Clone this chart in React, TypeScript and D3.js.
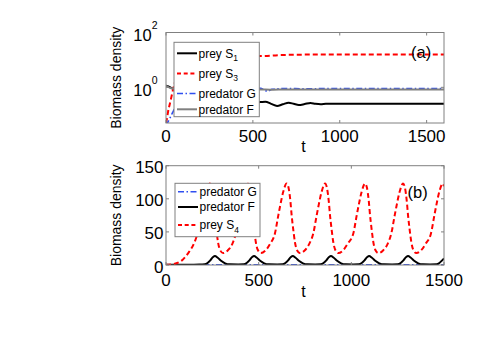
import * as d3 from "d3";

const FONT = "'Liberation Sans', Arial, Helvetica, sans-serif";

// ---- panel (a): log-scale biomass, t from 0 to 1600 ----
const preyS1 = [
  [0, 1.15], [10, 1.1], [25, 1.0], [45, 0.85], [80, 0.5], [120, 0.3], [160, 0.25], [220, 0.32],
  [300, 0.28], [380, 0.22], [460, 0.27], [543, 0.29], [572, 0.3], [605, 0.25], [639, 0.21],
  [672, 0.24], [706, 0.275], [735, 0.25], [764, 0.227], [798, 0.245], [832, 0.27], [860, 0.25],
  [890, 0.24], [920, 0.25], [960, 0.253], [1050, 0.25], [1200, 0.252], [1400, 0.25], [1600, 0.251],
];
const preyS3 = [
  [0, 0.05], [5, 0.07], [12, 0.13], [25, 0.3], [40, 0.8], [55, 1.8], [80, 4], [120, 8], [200, 12],
  [300, 13.5], [400, 14], [500, 13.8], [550, 13.8], [650, 15], [800, 15.6], [1000, 15.8],
  [1200, 15.8], [1600, 15.8],
];
const predatorG_a = [
  [0, 0.04], [8, 0.05], [20, 0.07], [35, 0.11], [46, 0.15], [80, 0.4], [120, 0.8], [200, 1.0],
  [300, 0.9], [400, 0.88], [500, 0.9], [545, 0.92], [565, 0.8], [585, 0.72], [610, 0.85],
  [680, 0.9], [800, 0.89], [1000, 0.9], [1600, 0.9],
];
const predatorF_a = [
  [0, 1.15], [10, 1.05], [25, 0.95], [46, 0.9], [100, 0.8], [300, 0.82], [545, 0.84], [600, 0.82],
  [700, 0.83], [1000, 0.83], [1600, 0.83],
];

// ---- panel (b): linear biomass, t from 0 to 1500 ----
const predatorG_b = [
  [0, 0.3], [200, 0.3], [400, 0.35], [700, 0.3], [1000, 0.3], [1300, 0.3], [1500, 0.3],
];
const predatorF_b = [
  [0, 0.3], [100, 0.4], [180, 0.6], [209, 1], [224, 3], [239, 7], [254, 12], [264, 13.5], [279, 11],
  [299, 6], [319, 2.5], [344, 1], [390, 0.8],
  [420, 1], [435, 3], [450, 7], [465, 12], [475, 13.5], [490, 11], [510, 6], [530, 2.5], [555, 1], [600, 0.8],
  [629, 1], [644, 3], [659, 7], [674, 12], [684, 13.5], [699, 11], [719, 6], [739, 2.5], [764, 1], [805, 0.8],
  [835, 1], [850, 3], [865, 7], [880, 12], [890, 13.5], [905, 11], [925, 6], [945, 2.5], [970, 1], [1010, 0.8],
  [1041, 1], [1056, 3], [1071, 7], [1086, 12], [1096, 13.5], [1111, 11], [1131, 6], [1151, 2.5], [1176, 1], [1220, 0.8],
  [1251, 1], [1266, 3], [1281, 7], [1296, 12], [1306, 13.5], [1321, 11], [1341, 6], [1361, 2.5], [1386, 1], [1425, 0.8],
  [1460, 1], [1475, 3], [1490, 7], [1500, 10],
];
const preyS4 = [
  [0, 0.5], [30, 1], [60, 3], [90, 8], [120, 18], [150, 32], [166, 44], [190, 75], [205, 95], [220, 112],
  [236, 123], [246, 117], [256, 97], [263, 75], [271, 55], [281, 34], [291, 23], [308, 18],
  [333, 22], [358, 32], [377, 48], [395, 75], [404, 88], [422, 111], [440, 123], [450, 117], [460, 97],
  [467, 75], [475, 55], [485, 34], [495, 23], [512, 18],
  [537, 22], [562, 32], [588, 48], [606, 75], [615, 88], [633, 111], [651, 123], [661, 117], [671, 97],
  [678, 75], [686, 55], [696, 34], [706, 23], [723, 18],
  [748, 22], [773, 32], [795, 48], [813, 75], [822, 88], [840, 111], [858, 123], [868, 117], [878, 97],
  [885, 75], [893, 55], [903, 34], [913, 23], [930, 18],
  [955, 22], [980, 32], [1011, 48], [1029, 75], [1038, 88], [1056, 111], [1074, 123], [1084, 117], [1094, 97],
  [1101, 75], [1109, 55], [1119, 34], [1129, 23], [1146, 18],
  [1171, 22], [1196, 32], [1216, 48], [1234, 75], [1243, 88], [1261, 111], [1279, 123], [1289, 117], [1299, 97],
  [1306, 75], [1314, 55], [1324, 34], [1334, 23], [1351, 18],
  [1376, 22], [1401, 32], [1430, 48], [1448, 75], [1457, 88], [1475, 111], [1493, 123], [1500, 119],
];

const xTicks = [0, 500, 1000, 1500];
const logTicks = [0, 2]; // exponents shown as 10^k
const linTicks = [0, 50, 100, 150];

const legendA = [
  { label: "prey S", sub: "1", color: "#000", dash: "none", width: 2, y: 53.3 },
  { label: "prey S", sub: "3", color: "#ff0000", dash: "4,2.7", width: 2, y: 73.5 },
  { label: "predator G", sub: "", color: "#2f4ff0", dash: "6,2.5,1.5,2.5", width: 1.6, y: 93.5 },
  { label: "predator F", sub: "", color: "#808080", dash: "none", width: 2, y: 109.3 },
];
const legendB = [
  { label: "predator G", sub: "", color: "#2f4ff0", dash: "6,2.5,1.5,2.5", width: 1.6, y: 191.7 },
  { label: "predator F", sub: "", color: "#000", dash: "none", width: 2, y: 207 },
  { label: "prey S", sub: "4", color: "#ff0000", dash: "4,2.7", width: 2, y: 225 },
];

const frame = "#808080";
const TICK = 3;

function Legend({ x0, y0, x1, y1, items }) {
  return (
    <g>
      <rect x={x0} y={y0} width={x1 - x0} height={y1 - y0} fill="#fff" stroke={frame} strokeWidth={1} />
      {items.map((it, i) => (
        <g key={i}>
          <line x1={x0 + 3} x2={x0 + 23} y1={it.y} y2={it.y} stroke={it.color}
            strokeWidth={it.width} strokeDasharray={it.dash} />
          <text x={x0 + 24.5} y={it.y + 4.3} fontSize={12} fontFamily={FONT} fill="#000">
            {it.label}
            {it.sub && <tspan fontSize={8.5} dy={3.5}>{it.sub}</tspan>}
          </text>
        </g>
      ))}
    </g>
  );
}

export default function App() {
  const L = 166, R = 444;
  const A = { top: 32.5, bottom: 123 };
  const B = { top: 165.7, bottom: 265 };

  const xA = d3.scaleLinear().domain([0, 1600]).range([L, R]);
  const yA = d3.scaleLog().domain([0.05, 100]).range([A.bottom, A.top]);
  const xB = d3.scaleLinear().domain([0, 1500]).range([L, R]);
  const yB = d3.scaleLinear().domain([0, 150]).range([B.bottom, B.top]);

  const lineA = d3.line().x(d => xA(d[0])).y(d => yA(d[1])).curve(d3.curveMonotoneX);
  const lineB = d3.line().x(d => xB(d[0])).y(d => yB(d[1])).curve(d3.curveMonotoneX);

  return (
    <svg width={491} height={347} style={{ position: "absolute", left: 0, top: 0, background: "#fff" }}>
      <defs>
        <clipPath id="clipA"><rect x={L} y={A.top} width={R - L} height={A.bottom - A.top} /></clipPath>
        <clipPath id="clipB"><rect x={L} y={B.top} width={R - L} height={B.bottom - B.top} /></clipPath>
      </defs>

      {/* ---- panel (a) ---- */}
      <g clipPath="url(#clipA)" fill="none">
        <path d={lineA(preyS1)} stroke="#000" strokeWidth={2} />
        <path d={lineA(preyS3)} stroke="#ff0000" strokeWidth={2} strokeDasharray="5,3" />
        <path d={lineA(predatorG_a)} stroke="#2f4ff0" strokeWidth={1.6} strokeDasharray="6,2.5,1.5,2.5" />
        <path d={lineA(predatorF_a)} stroke="#808080" strokeWidth={2} />
      </g>
      <rect x={L} y={A.top} width={R - L} height={A.bottom - A.top} fill="none" stroke={frame} strokeWidth={1} />
      {xTicks.map(t => (
        <g key={"xa" + t}>
          <line x1={xA(t)} x2={xA(t)} y1={A.bottom} y2={A.bottom - TICK} stroke={frame} />
          <line x1={xA(t)} x2={xA(t)} y1={A.top} y2={A.top + TICK} stroke={frame} />
          <text x={xA(t)} y={141.5} textAnchor="middle" fontSize={17} fontFamily={FONT}>{t}</text>
        </g>
      ))}
      {logTicks.map(k => (
        <g key={"ya" + k}>
          <line x1={L} x2={L + TICK} y1={yA(10 ** k)} y2={yA(10 ** k)} stroke={frame} />
          <line x1={R} x2={R - TICK} y1={yA(10 ** k)} y2={yA(10 ** k)} stroke={frame} />
          <text x={157.5} y={yA(10 ** k) + 8.2} textAnchor="end" fontSize={16.5} fontFamily={FONT}>
            10<tspan fontSize={10.5} dy={-12}>{k}</tspan>
          </text>
        </g>
      ))}
      <text x={303.5} y={152} textAnchor="middle" fontSize={16} fontFamily={FONT}>t</text>
      <text transform={`translate(121,${(A.top + A.bottom) / 2}) rotate(-90)`} textAnchor="middle"
        fontSize={14} fontFamily={FONT}>Biomass density</text>
      <text x={411} y={57.5} fontSize={16.5} fontFamily={FONT}>(a)</text>
      <Legend x0={174} y0={42.3} x1={259.3} y1={116.7} items={legendA} />

      {/* ---- panel (b) ---- */}
      <g clipPath="url(#clipB)" fill="none">
        <path d={lineB(predatorG_b)} stroke="#2f4ff0" strokeWidth={1.6} strokeDasharray="6,2.5,1.5,2.5" />
        <path d={lineB(predatorF_b)} stroke="#000" strokeWidth={2} />
        <path d={lineB(preyS4)} stroke="#ff0000" strokeWidth={2} strokeDasharray="5,3" />
      </g>
      <rect x={L} y={B.top} width={R - L} height={B.bottom - B.top} fill="none" stroke={frame} strokeWidth={1} />
      {xTicks.map(t => (
        <g key={"xb" + t}>
          <line x1={xB(t)} x2={xB(t)} y1={B.bottom} y2={B.bottom - TICK} stroke={frame} />
          <line x1={xB(t)} x2={xB(t)} y1={B.top} y2={B.top + TICK} stroke={frame} />
          <text x={xB(t)} y={285.5} textAnchor="middle" fontSize={17} fontFamily={FONT}>{t}</text>
        </g>
      ))}
      {linTicks.map(v => (
        <g key={"yb" + v}>
          <line x1={L} x2={L + TICK} y1={yB(v)} y2={yB(v)} stroke={frame} />
          <line x1={R} x2={R - TICK} y1={yB(v)} y2={yB(v)} stroke={frame} />
          <text x={163.5} y={yB(v) + 7.5} textAnchor="end" fontSize={17} fontFamily={FONT}>{v}</text>
        </g>
      ))}
      <text x={303.5} y={297} textAnchor="middle" fontSize={16} fontFamily={FONT}>t</text>
      <text transform={`translate(121,${(B.top + B.bottom) / 2}) rotate(-90)`} textAnchor="middle"
        fontSize={14} fontFamily={FONT}>Biomass density</text>
      <text x={407.5} y={198} fontSize={16.5} fontFamily={FONT}>(b)</text>
      <Legend x0={175} y0={183.3} x1={260} y1={236.7} items={legendB} />
    </svg>
  );
}
